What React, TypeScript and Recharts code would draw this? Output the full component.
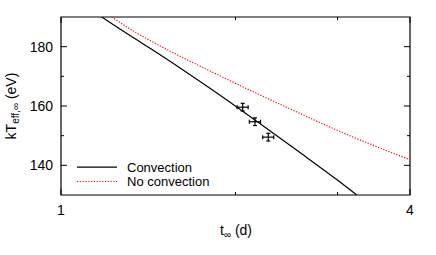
import React from "react";
import {
  ComposedChart,
  Line,
  Scatter,
  XAxis,
  YAxis,
  ErrorBar,
  ReferenceArea,
  Legend,
} from "recharts";

// model curves (t in days, kT in eV)
const convectionT = [1.1755, 1.351, 1.424, 1.807, 2.584, 2.99, 3.237];
const convectionKT = [190, 182.3, 179.5, 166.0, 144.3, 135.2, 130];
const noConvectionT = [1.223, 1.351, 1.424, 1.944, 2.584, 3.029, 4];
const noConvectionKT = [190, 184.6, 182.1, 168.8, 157.5, 151.4, 141.9];

// observations with error bars
const obsT = [2.058, 2.161, 2.278];
const obsKT = [159.6, 154.7, 149.5];
const obsTErr = [0.045, 0.048, 0.05];
const obsKTErr = [1.3, 1.3, 1.3];

const xTicks = [1, 2, 3, 4];
const xLabeled = [1, 4];
const yTicks = [140, 150, 160, 170, 180];
const yLabeled = [140, 160, 180];

const convectionData = convectionT.map((t, i) => ({ t, kT: convectionKT[i] }));
const noConvectionData = noConvectionT.map((t, i) => ({ t, kT: noConvectionKT[i] }));
const obsData = obsT.map((t, i) => ({
  t,
  kT: obsKT[i],
  tErr: obsTErr[i],
  kTErr: obsKTErr[i],
}));

const FONT = "'Liberation Sans', Arial, Helvetica, sans-serif";

// plot box (gnuplot-like frame)
const PL = 61;
const PR = 410;
const PT = 17;
const PB = 195;

const XTick = (props: any) => {
  const { x, payload } = props;
  const v = payload.value;
  const major = xLabeled.includes(v);
  const len = major ? 6 : 3;
  return (
    <g>
      <line x1={x} y1={PB} x2={x} y2={PB - len} stroke="#000" strokeWidth={1} />
      <line x1={x} y1={PT} x2={x} y2={PT + len} stroke="#000" strokeWidth={1} />
      {major && (
        <text x={x} y={215} textAnchor="middle" fontSize={14} fontFamily={FONT} fill="#000">
          {v}
        </text>
      )}
    </g>
  );
};

const YTick = (props: any) => {
  const { y, payload } = props;
  const v = payload.value;
  const major = yLabeled.includes(v);
  const len = major ? 6 : 3;
  return (
    <g>
      <line x1={PL} y1={y} x2={PL + len} y2={y} stroke="#000" strokeWidth={1} />
      <line x1={PR} y1={y} x2={PR - len} y2={y} stroke="#000" strokeWidth={1} />
      {major && (
        <text x={53} y={y + 5} textAnchor="end" fontSize={14} fontFamily={FONT} fill="#000">
          {v}
        </text>
      )}
    </g>
  );
};

const XLabel = () => (
  <text x={236} y={235} textAnchor="middle" fontSize={14} fontFamily={FONT} fill="#000">
    t
    <tspan fontSize={10} dy={3}>∞</tspan>
    <tspan dy={-3}> (d)</tspan>
  </text>
);

const YLabel = () => (
  <text
    x={0}
    y={0}
    transform="translate(16, 106) rotate(-90)"
    textAnchor="middle"
    fontSize={14}
    fontFamily={FONT}
    fill="#000"
  >
    kT
    <tspan fontSize={10} dy={3}>eff,∞</tspan>
    <tspan dy={-3}> (eV)</tspan>
  </text>
);

const LegendBox = () => (
  <svg width={170} height={34} style={{ display: "block" }}>
    <line x1={7} y1={9.2} x2={47} y2={9.2} stroke="#000" strokeWidth={1.2} />
    <text x={57} y={13.8} fontSize={13} fontFamily={FONT} fill="#000">
      Convection
    </text>
    <line
      x1={7}
      y1={23.5}
      x2={47}
      y2={23.5}
      stroke="#ff0000"
      strokeWidth={1.2}
      strokeDasharray="1.2 1.6"
    />
    <text x={57} y={28.3} fontSize={13} fontFamily={FONT} fill="#000">
      No convection
    </text>
  </svg>
);

const NoMarker = () => <g />;

export default function App() {
  return (
    <div style={{ position: "absolute", left: 0, top: 0, background: "#fff" }}>
      <ComposedChart
        width={436}
        height={255}
        margin={{ top: PT, right: 436 - PR, bottom: 0, left: 0 }}
      >
        <XAxis
          type="number"
          dataKey="t"
          scale="log"
          domain={[1, 4]}
          ticks={xTicks}
          allowDataOverflow
          height={255 - PB}
          axisLine={false}
          tickLine={false}
          tick={<XTick />}
          label={<XLabel />}
        />
        <YAxis
          type="number"
          dataKey="kT"
          domain={[130, 190]}
          ticks={yTicks}
          allowDataOverflow
          width={PL}
          axisLine={false}
          tickLine={false}
          tick={<YTick />}
          label={<YLabel />}
        />
        <ReferenceArea
          x1={1}
          x2={4}
          y1={130}
          y2={190}
          fill="none"
          stroke="#000"
          strokeWidth={1.2}
          ifOverflow="visible"
        />
        <Line
          data={convectionData}
          dataKey="kT"
          type="monotone"
          stroke="#000"
          strokeWidth={1.2}
          dot={false}
          activeDot={false}
          isAnimationActive={false}
        />
        <Line
          data={noConvectionData}
          dataKey="kT"
          type="monotone"
          stroke="#ff0000"
          strokeWidth={1.2}
          strokeDasharray="1.2 1.6"
          dot={false}
          activeDot={false}
          isAnimationActive={false}
        />
        <Scatter data={obsData} dataKey="kT" shape={<NoMarker />} isAnimationActive={false}>
          <ErrorBar dataKey="tErr" direction="x" width={2} stroke="#000" strokeWidth={1.2} />
          <ErrorBar dataKey="kTErr" direction="y" width={2} stroke="#000" strokeWidth={1.2} />
        </Scatter>
        <Legend
          layout="vertical"
          align="center"
          verticalAlign="middle"
          wrapperStyle={{ left: 70, top: 158, width: 170, height: 34 }}
          content={<LegendBox />}
        />
      </ComposedChart>
    </div>
  );
}
